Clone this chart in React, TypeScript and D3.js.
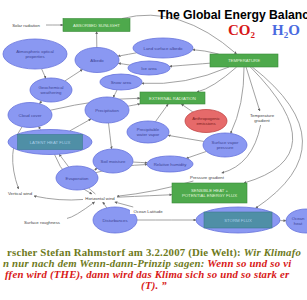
import React from "react";
import * as d3 from "d3";

type N = { id: string; label: string[]; type: string; x: number; y: number; w: number; h: number; rw?: number; rh?: number; lx?: number };

const nodes: N[] = [
  { id: "solar", label: ["Solar radiation"], type: "t", x: 26, y: 25, w: 38, h: 6 },
  { id: "abs", label: ["ABSORBED SUNLIGHT"], type: "r", x: 96.5, y: 25, w: 67, h: 13 },
  { id: "temp", label: ["TEMPERATURE"], type: "r", x: 244, y: 60.5, w: 68, h: 13 },
  { id: "atm", label: ["Atmospheric optical", "properties"], type: "e", x: 35, y: 54, w: 64, h: 30 },
  { id: "albedo", label: ["Albedo"], type: "e", x: 97, y: 60, w: 44, h: 25 },
  { id: "land", label: ["Land surface albedo"], type: "e", x: 163, y: 48, w: 60, h: 20 },
  { id: "ice", label: ["Ice area"], type: "e", x: 149, y: 68, w: 42, h: 14 },
  { id: "snow", label: ["Snow area"], type: "e", x: 121, y: 82, w: 42, h: 16 },
  { id: "geo", label: ["Geochemical", "weathering"], type: "e", x: 51, y: 90, w: 42, h: 24 },
  { id: "cloud", label: ["Cloud cover"], type: "e", x: 30, y: 115, w: 44, h: 25 },
  { id: "precip", label: ["Precipitation"], type: "e", x: 107, y: 110, w: 44, h: 26 },
  { id: "ext", label: ["EXTERNAL RADIATION"], type: "r", x: 172.5, y: 98, w: 65, h: 12 },
  { id: "anthro", label: ["Anthropogenic", "emissions"], type: "red", x: 206, y: 121, w: 42, h: 23 },
  { id: "pwv", label: ["Precipitable", "water vapor"], type: "e", x: 148, y: 132, w: 42, h: 22 },
  { id: "svp", label: ["Surface vapor", "pressure"], type: "e", x: 225, y: 145, w: 44, h: 24 },
  { id: "tgrad", label: ["Temperature", "gradient"], type: "t", x: 262, y: 118, w: 26, h: 12 },
  { id: "latent", label: ["LATENT HEAT FLUX"], type: "er", x: 50, y: 142, w: 84, h: 25, rw: 65, rh: 15 },
  { id: "soil", label: ["Soil moisture"], type: "e", x: 113, y: 161, w: 40, h: 24 },
  { id: "evap", label: ["Evaporation"], type: "e", x: 77, y: 178, w: 42, h: 24 },
  { id: "rh", label: ["Relative humidity"], type: "e", x: 170, y: 164, w: 46, h: 16 },
  { id: "pgrad", label: ["Pressure gradient"], type: "t", x: 207, y: 177, w: 44, h: 6 },
  { id: "hwind", label: ["Horizontal wind"], type: "t", x: 100, y: 198, w: 32, h: 6 },
  { id: "vwind", label: ["Vertical wind"], type: "t", x: 20, y: 193, w: 26, h: 6 },
  { id: "rough", label: ["Surface roughness"], type: "t", x: 42, y: 222, w: 48, h: 6 },
  { id: "dist", label: ["Disturbances"], type: "e", x: 115, y: 220, w: 44, h: 26 },
  { id: "ocean", label: ["Ocean Latitude"], type: "t", x: 148, y: 211, w: 36, h: 6 },
  { id: "sens", label: ["SENSIBLE HEAT +", "POTENTIAL ENERGY FLUX"], type: "r", x: 209.5, y: 193, w: 75, h: 20 },
  { id: "storm", label: ["STORM FLUX"], type: "er", x: 238, y: 220, w: 84, h: 26, rw: 68, rh: 16 },
  { id: "ocean2", label: ["Ocean", "heat"], type: "e", x: 306, y: 221, w: 40, h: 24, lx: 298 },
];

const edgeFrom = ["solar", "abs", "albedo", "land", "ice", "temp", "temp", "temp", "temp", "atm", "geo", "geo", "cloud", "precip", "latent", "precip", "pwv", "anthro", "svp", "temp", "temp", "tgrad", "temp", "temp", "pgrad", "hwind", "hwind", "rough", "dist", "ocean", "hwind", "dist", "storm", "evap", "evap", "soil", "svp", "cloud", "latent", "evap", "snow", "latent"];
const edgeTo = ["abs", "temp", "abs", "albedo", "albedo", "land", "ice", "snow", "ext", "geo", "albedo", "cloud", "ext", "soil", "cloud", "ext", "ext", "ext", "pwv", "svp", "tgrad", "pgrad", "sens", "storm", "hwind", "evap", "vwind", "hwind", "hwind", "hwind", "sens", "storm", "ocean2", "latent", "soil", "rh", "rh", "vwind", "hwind", "rh", "precip", "precip"];
const edgeBend = [0, 40, 0, 0, 0, -4, 0, 15, 10, 0, 0, 0, 8, 0, 0, 0, 0, 0, 0, 10, 0, 25, 115, 110, 5, 0, 6, -8, 0, 0, 0, 0, 0, 0, 0, 0, 0, -20, -15, 6, 0, 0];

const title = "The Global Energy Balance";
const quote1a = "rscher Stefan Rahmstorf am 3.2.2007 (Die Welt): ";
const quote1b = "Wir Klimafo";
const quote2a = "n nur nach dem Wenn-dann-Prinzip sagen: ";
const quote2b = "Wenn so und so vi";
const quote3 = "ffen wird (THE), dann wird das Klima sich so und so stark er";
const quote4 = "(T). \u201D";

const byId = new Map(nodes.map((n) => [n.id, n]));

function boundary(n: N, tx: number, ty: number): [number, number] {
  const dx = tx - n.x, dy = ty - n.y;
  if (dx === 0 && dy === 0) return [n.x, n.y];
  let t: number;
  if (n.type === "e" || n.type === "red" || n.type === "er") {
    const rx = n.w / 2, ry = n.h / 2;
    t = 1 / Math.sqrt((dx / rx) ** 2 + (dy / ry) ** 2);
  } else {
    const hw = n.w / 2 + (n.type === "t" ? 1 : 0), hh = n.h / 2 + (n.type === "t" ? 1 : 0);
    t = Math.min(dx === 0 ? Infinity : hw / Math.abs(dx), dy === 0 ? Infinity : hh / Math.abs(dy));
  }
  return [n.x + dx * t, n.y + dy * t];
}

export default function App() {
  const edges = edgeFrom.map((f, i) => {
    const a = byId.get(f)!, b = byId.get(edgeTo[i])!;
    const dx = b.x - a.x, dy = b.y - a.y;
    const len = Math.hypot(dx, dy);
    const nx = dy / len, ny = -dx / len;
    const cx = (a.x + b.x) / 2 + nx * edgeBend[i];
    const cy = (a.y + b.y) / 2 + ny * edgeBend[i];
    const p0 = boundary(a, cx, cy);
    const p1 = boundary(b, cx, cy);
    const p = d3.path();
    p.moveTo(p0[0], p0[1]);
    p.quadraticCurveTo(cx, cy, p1[0], p1[1]);
    return p.toString();
  });

  const fs = 4.3;
  return (
    <svg width={307} height={300} style={{ position: "absolute", left: 0, top: 0, background: "#fff" }}>
      <defs>
        <marker id="arr" viewBox="0 0 10 10" refX="9" refY="5" markerWidth="3.5" markerHeight="3.5" orient="auto">
          <path d="M0,0 L10,5 L0,10 z" fill="#666" />
        </marker>
      </defs>
      <rect width={307} height={300} fill="#fff" />
      {edges.map((d, i) => (
        <path key={i} d={d} fill="none" stroke="#8a8a8a" strokeWidth={0.8} markerEnd="url(#arr)" />
      ))}
      {nodes.map((n) => {
        const lines = n.label;
        const lh = fs + 1;
        const lx = n.lx ?? n.x;
        const textFill = n.type === "r" ? "#e0f4dc" : n.type === "er" ? "#a9cde6" : n.type === "red" ? "#7a2020" : n.type === "t" ? "#444" : "#3d4494";
        return (
          <g key={n.id}>
            {(n.type === "e" || n.type === "er") && (
              <ellipse cx={n.x} cy={n.y} rx={n.w / 2} ry={n.h / 2} fill="#8a98f2" stroke="#6672dc" strokeWidth={0.8} />
            )}
            {n.type === "red" && (
              <ellipse cx={n.x} cy={n.y} rx={n.w / 2} ry={n.h / 2} fill="#e66a6a" stroke="#c04848" strokeWidth={0.8} />
            )}
            {n.type === "er" && (
              <rect x={n.x - n.rw! / 2} y={n.y - n.rh! / 2} width={n.rw} height={n.rh} fill="#4f8fa6" stroke="#3d7a90" strokeWidth={0.6} />
            )}
            {n.type === "r" && (
              <rect x={n.x - n.w / 2} y={n.y - n.h / 2} width={n.w} height={n.h} fill="#4ea94c" stroke="#3b8a3a" strokeWidth={0.6} />
            )}
            {n.type === "t" && (
              <rect x={n.x - n.w / 2} y={n.y - n.h / 2} width={n.w} height={n.h} fill="#fff" />
            )}
            <text fontFamily="Liberation Sans, Arial, sans-serif" fontSize={fs} fill={textFill} textAnchor="middle">
              {lines.map((l, j) => (
                <tspan key={j} x={lx} y={n.y + (j - (lines.length - 1) / 2) * lh + fs * 0.35}>
                  {l}
                </tspan>
              ))}
            </text>
          </g>
        );
      })}
      <text x={158} y={19} fontFamily="Liberation Sans, Arial, sans-serif" fontWeight="bold" fontSize={12.2} fill="#000">
        {title}
      </text>
      <text x={228} y={35} fontFamily="Liberation Serif, serif" fontWeight="bold" fontSize={15} fill="#d81818">
        CO<tspan fontSize={9} dy={3}>2</tspan>
      </text>
      <text x={272} y={35} fontFamily="Liberation Serif, serif" fontWeight="bold" fontSize={15} fill="#4a6ae0">
        H<tspan fontSize={9} dy={3}>2</tspan><tspan dy={-3}>O</tspan>
      </text>
      <g fontFamily="Liberation Serif, serif" fontWeight="bold" fontSize={10.8} letterSpacing={0.2}>
        <text x={7} y={256} fill="#6e7a1c">
          {quote1a}
          <tspan fontStyle="italic">{quote1b}</tspan>
        </text>
        <text x={3} y={267} fontStyle="italic">
          <tspan fill="#6e7a1c">{quote2a}</tspan>
          <tspan fill="#d81818">{quote2b}</tspan>
        </text>
        <text x={5} y={278} fontStyle="italic" fill="#d81818">
          {quote3}
        </text>
        <text x={154} y={289} fontStyle="italic" fill="#d81818" textAnchor="middle">
          {quote4}
        </text>
      </g>
    </svg>
  );
}
